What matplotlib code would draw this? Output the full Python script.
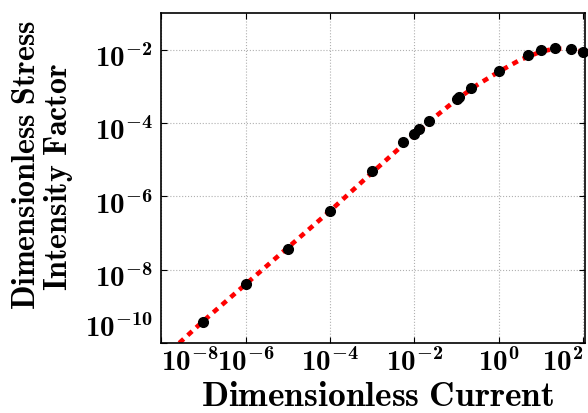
import matplotlib
matplotlib.use('Agg')
import matplotlib.pyplot as plt
import matplotlib.transforms as mtransforms

plt.rcParams['mathtext.fontset'] = 'custom'
plt.rcParams['mathtext.rm'] = 'cmb10'
plt.rcParams['mathtext.bf'] = 'cmb10'
plt.rcParams['mathtext.it'] = 'cmb10'

# model curve (red dotted)
curve_x = [2.69e-8, 1e-7, 1e-6, 1e-5, 1e-4, 1e-3, 1e-2, 3.16e-2, 0.1, 0.316,
           1.0, 3.16, 10.0, 20.0, 40.0, 100.0]
curve_y = [1e-10, 3.98e-10, 3.98e-9, 3.98e-8, 3.98e-7, 4.47e-6, 4.79e-5,
           1.51e-4, 4.37e-4, 1.12e-3, 2.51e-3, 5.25e-3, 8.91e-3, 1.05e-2,
           1.07e-2, 8.71e-3]

# data points (black dots)
pts_x = [1e-7, 1e-6, 1e-5, 1e-4, 1e-3, 5.5e-3, 1e-2, 1.3e-2, 2.2e-2, 0.1,
         0.115, 0.22, 1.0, 5.0, 10.0, 21.0, 52.0, 100.0]
pts_y = [3.8e-10, 4.0e-9, 3.7e-8, 3.9e-7, 5.0e-6, 2.95e-5, 5.1e-5, 6.8e-5,
         1.15e-4, 4.5e-4, 5.1e-4, 8.9e-4, 2.6e-3, 7.1e-3, 9.5e-3, 1.12e-2,
         1.02e-2, 8.5e-3]

xticks = [1e-8, 1e-6, 1e-4, 1e-2, 1e0, 1e2]
xlabels = [r'$10^{-8}$', r'$10^{-6}$', r'$10^{-4}$',
           r'$10^{-2}$', r'$10^{0}$', r'$10^{2}$']
yticks = [1e-10, 1e-8, 1e-6, 1e-4, 1e-2]
ylabels = [r'$10^{-10}$', r'$10^{-8}$', r'$10^{-6}$',
           r'$10^{-4}$', r'$10^{-2}$']

fig = plt.figure(figsize=(5.88, 4.13), dpi=100)
ax = fig.add_axes([0.274, 0.1695, 0.721, 0.799])

ax.plot(curve_x, curve_y, color='red', lw=3.3, linestyle=(0, (1.3, 1.2)),
        dash_capstyle='butt', zorder=2)
ax.plot(pts_x, pts_y, 'o', color='black', ms=7, zorder=3, clip_on=False)

ax.set_xscale('log')
ax.set_yscale('log')
ax.set_xlim(1e-8, 1.1e2)
ax.set_ylim(1e-10, 1e-1)

ax.set_xticks(xticks)
ax.set_xticklabels(xlabels, fontsize=21)
ax.set_yticks(yticks)
ax.set_yticklabels(ylabels, fontsize=21)
ax.minorticks_off()
ax.tick_params(direction='in', length=4, width=0.8, top=True, right=True)
ax.tick_params(axis='x', pad=4)
ax.tick_params(axis='y', pad=6)

# edge labels kept inside the frame, like the original
xl = ax.get_xticklabels()
xl[0].set_ha('left')
xl[-1].set_ha('right')
yl = ax.get_yticklabels()
yl[0].set_va('bottom')
shift = mtransforms.ScaledTranslation(0, -6 / 100, fig.dpi_scale_trans)
for t in yl[1:]:
    t.set_transform(t.get_transform() + shift)

ax.grid(True, which='major', color='#b0b0b0', linestyle=':', lw=0.8)
for s in ax.spines.values():
    s.set_linewidth(1.2)

# axis titles
W, H = 588, 413
fig.text(377.5 / W, 1 - 406 / H, r'$\mathrm{Dimensionless\ Current}$',
         fontsize=25.5, ha='center', va='baseline')
fig.text(35 / W, 1 - 165 / H, r'$\mathrm{Dimensionless\ Stress}$',
         fontsize=23, rotation=90, rotation_mode='anchor',
         ha='center', va='baseline')
fig.text(67 / W, 1 - 177 / H, r'$\mathrm{Intensity\ Factor}$',
         fontsize=23, rotation=90, rotation_mode='anchor',
         ha='center', va='baseline')

fig.savefig('out.png', dpi=100)
